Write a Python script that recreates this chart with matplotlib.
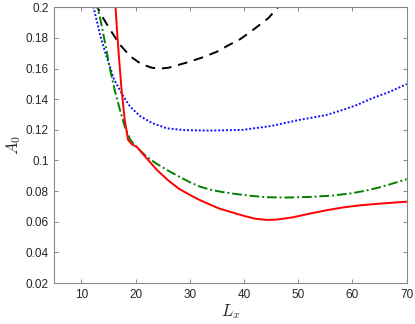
import matplotlib
matplotlib.use('Agg')
import matplotlib.pyplot as plt

# values
x_black = [12.5, 13.5, 15, 17, 19, 21, 23, 24.5, 26, 28, 30, 32.5, 35, 37, 39.2, 41, 42.9, 44.5, 46.5]
y_black = [0.203, 0.196, 0.187, 0.176, 0.168, 0.163, 0.1605, 0.160, 0.1605, 0.1625, 0.1645, 0.1675, 0.171, 0.175, 0.179, 0.1835, 0.1886, 0.193, 0.201]

x_blue = [11.8, 12.5, 13.5, 14.6, 16, 17.7, 19, 20.8, 23, 25.7, 29, 33.7, 39.8, 45, 50.2, 55, 58.2, 61, 63.7, 67, 70]
y_blue = [0.206, 0.196, 0.181, 0.168, 0.153, 0.142, 0.135, 0.129, 0.1245, 0.121, 0.1198, 0.1195, 0.120, 0.1225, 0.1265, 0.1295, 0.133, 0.1365, 0.1407, 0.145, 0.1499]

x_green = [12.6, 13.5, 14.5, 15.3, 16.2, 17.1, 18, 19, 20.5, 22, 23.8, 25.7, 28, 30, 31.8, 33.7, 35.8, 37.9, 41, 44.1, 48, 52.1, 56, 59.5, 62, 64.4, 67, 70]
y_green = [0.205, 0.192, 0.174, 0.159, 0.145, 0.133, 0.122, 0.1135, 0.1075, 0.1025, 0.098, 0.0939, 0.0895, 0.0858, 0.0830, 0.0810, 0.0795, 0.0784, 0.0770, 0.0760, 0.0758, 0.0762, 0.0770, 0.0784, 0.0800, 0.0819, 0.0845, 0.0878]

x_red = [16.2, 16.5, 16.9, 17.4, 18.0, 18.6, 19.3, 20.2, 22, 23.9, 26, 28, 30, 31.8, 33.7, 35.5, 37.9, 40, 42, 44.1, 46, 49, 52, 55.2, 58, 61.3, 65, 70]
y_red = [0.205, 0.188, 0.168, 0.146, 0.126, 0.1135, 0.1105, 0.109, 0.1015, 0.0939, 0.087, 0.0815, 0.0775, 0.0742, 0.0712, 0.0685, 0.0660, 0.0638, 0.0620, 0.0612, 0.0614, 0.0629, 0.0652, 0.0675, 0.0692, 0.0707, 0.0718, 0.0731]

x_ticks = [10, 20, 30, 40, 50, 60, 70]
y_ticks = [0.02, 0.04, 0.06, 0.08, 0.1, 0.12, 0.14, 0.16, 0.18, 0.2]
y_ticklabels = ['0.02', '0.04', '0.06', '0.08', '0.1', '0.12', '0.14', '0.16', '0.18', '0.2']

plt.rcParams['font.family'] = ['Liberation Sans', 'DejaVu Sans']
plt.rcParams['mathtext.fontset'] = 'cm'

fig = plt.figure(figsize=(4.15, 3.24), dpi=100)
ax = fig.add_axes([0.131, 0.1265, 0.849, 0.851])

ax.plot(x_black, y_black, color='black', lw=1.4, ls=(0, (5, 3.5)))
ax.plot(x_blue, y_blue, color='#1010ff', lw=1.4, ls=(0, (1, 1)))
ax.plot(x_green, y_green, color='#008000', lw=1.4, ls=(0, (5, 1.5, 1, 1.5)))
ax.plot(x_red, y_red, color='#ff0000', lw=1.4, ls='-')

ax.set_xlim(5, 70)
ax.set_ylim(0.02, 0.2)
ax.set_xticks(x_ticks)
ax.set_yticks(y_ticks)
ax.set_yticklabels(y_ticklabels)

for s in ax.spines.values():
    s.set_color('#888888')
    s.set_linewidth(0.8)
ax.tick_params(direction='in', length=3, width=0.7, color='#888888',
               labelsize=8.5, labelcolor='#262626', top=True, right=True, pad=4)

ax.set_xlabel('$L_x$', fontsize=12, color='#262626', labelpad=1)
ax.set_ylabel('$A_0$', fontsize=12, color='#262626', labelpad=2)

fig.savefig('out.png', dpi=100)
